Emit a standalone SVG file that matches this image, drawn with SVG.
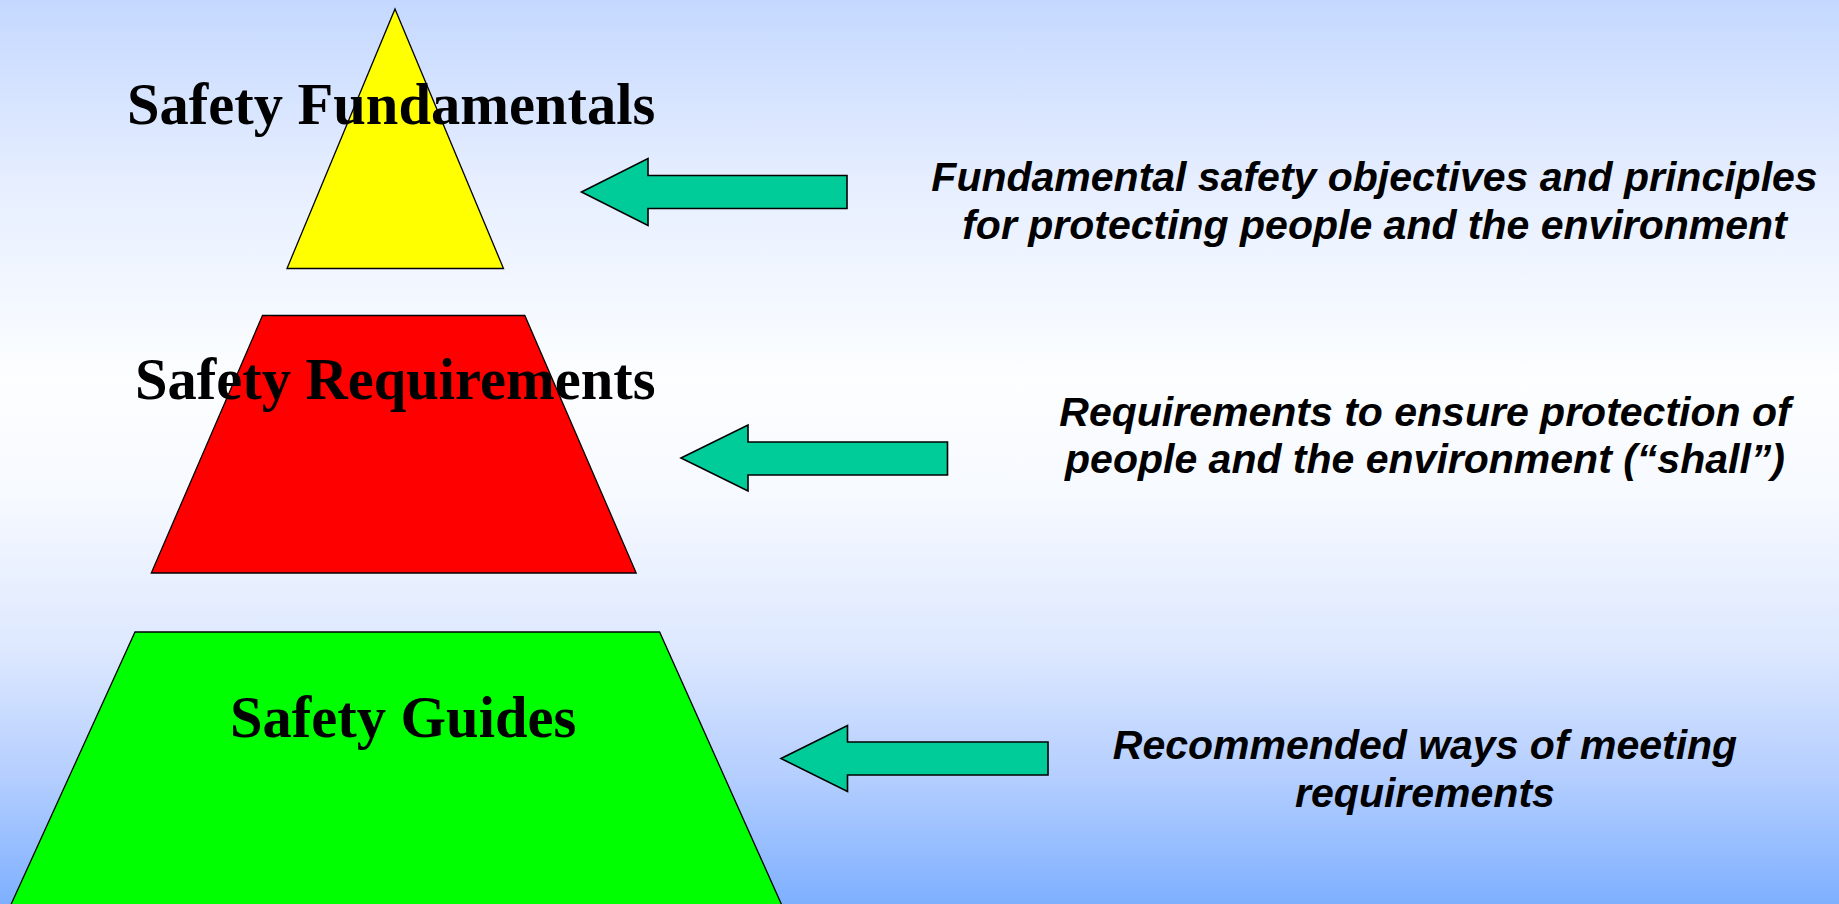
<svg xmlns="http://www.w3.org/2000/svg" width="1839" height="904" viewBox="0 0 1839 904">
  <defs>
    <linearGradient id="bg" x1="0" y1="0" x2="0" y2="1">
      <stop offset="0" stop-color="#c4d8ff"/>
      <stop offset="0.2" stop-color="#e6eeff"/>
      <stop offset="0.42" stop-color="#fcfeff"/>
      <stop offset="0.55" stop-color="#f6f9ff"/>
      <stop offset="0.72" stop-color="#dde8ff"/>
      <stop offset="0.86" stop-color="#b4ceff"/>
      <stop offset="1" stop-color="#7eb0ff"/>
    </linearGradient>
    <style>
      .tier { stroke: #000; stroke-width: 1.3; stroke-linejoin: miter; }
      .title { font-family: "Liberation Serif", "Times New Roman", serif; font-weight: bold; font-size: 58.5px; fill: #000; }
      .desc { font-family: "Liberation Sans", Arial, sans-serif; font-weight: bold; font-style: italic; font-size: 41px; fill: #000; text-anchor: middle; }
      .arrow { fill: #00cc99; stroke: #000; stroke-width: 1.6; stroke-linejoin: miter; }
    </style>
  </defs>
  <rect x="0" y="0" width="1839" height="904" fill="url(#bg)"/>

  <g id="tier-fundamentals">
    <polygon class="tier" fill="#ffff00" points="395,9 503.5,268.5 287,268.5"/>
    <text class="title" x="127" y="124">Safety Fundamentals</text>
  </g>

  <g id="tier-requirements">
    <polygon class="tier" fill="#ff0000" points="262.5,315.5 524.8,315.5 636.2,573 151.3,573"/>
    <text class="title" x="135" y="399">Safety Requirements</text>
  </g>

  <g id="tier-guides">
    <polygon class="tier" fill="#00ff00" points="135,632 659.6,632 784,910 8.5,910"/>
    <text class="title" x="230" y="736.5">Safety Guides</text>
  </g>

  <g id="connectors">
    <polygon class="arrow" points="581.5,192 648,158.5 648,175.5 847,175.5 847,208.5 648,208.5 648,225.5"/>
    <polygon class="arrow" points="681,458 748,425 748,442 947.5,442 947.5,475 748,475 748,491"/>
    <polygon class="arrow" points="781,758.5 847.5,725.5 847.5,742 1048,742 1048,775 847.5,775 847.5,791.5"/>
  </g>

  <g id="desc-fundamentals">
    <text class="desc" x="1374.5" y="191">Fundamental safety objectives and principles</text>
    <text class="desc" x="1374.5" y="238.5">for protecting people and the environment</text>
  </g>

  <g id="desc-requirements">
    <text class="desc" x="1425" y="425.5">Requirements to ensure protection of</text>
    <text class="desc" x="1425" y="472.5">people and the environment (“shall”)</text>
  </g>

  <g id="desc-guides">
    <text class="desc" x="1425" y="759.3">Recommended ways of meeting</text>
    <text class="desc" x="1425" y="806.5">requirements</text>
  </g>
</svg>
